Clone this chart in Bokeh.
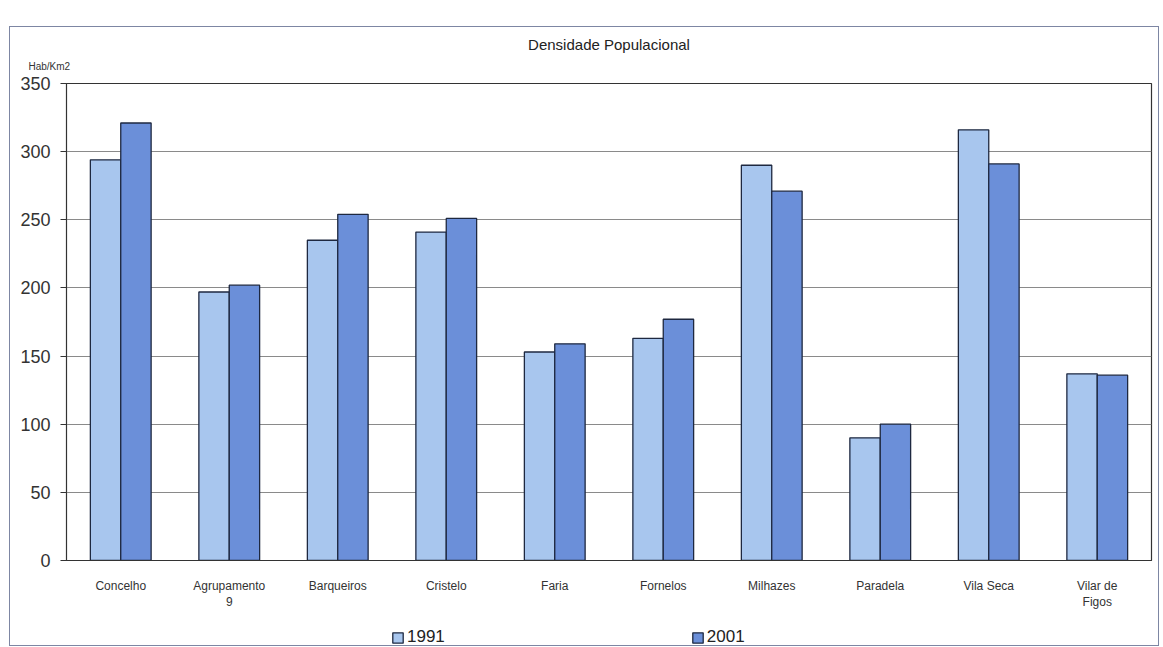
from bokeh.plotting import figure
from bokeh.layouts import column
from bokeh.models import ColumnDataSource, Legend, LegendItem, Title, FixedTicker
from bokeh.transform import dodge
from bokeh.embed import file_html
from bokeh.resources import INLINE

categories = ["Concelho", "Agrupamento\n9", "Barqueiros", "Cristelo", "Faria",
              "Fornelos", "Milhazes", "Paradela", "Vila Seca", "Vilar de\nFigos"]
values_1991 = [294, 197, 235, 241, 153, 163, 290, 90, 316, 137]
values_2001 = [321, 202, 254, 251, 159, 177, 271, 100, 291, 136]
series_names = ["1991", "2001"]
y_ticks = [0, 50, 100, 150, 200, 250, 300, 350]

src = ColumnDataSource(dict(cat=categories, v1991=values_1991, v2001=values_2001))

FONT = "Liberation Sans"
C1991 = "#a8c6ee"
C2001 = "#6b8fd9"
EDGE = "#1e2840"

p = figure(x_range=categories, y_range=(0, 350), width=1148, height=585,
           output_backend="svg", toolbar_location=None, title=None,
           min_border_left=56, min_border_top=56, min_border_right=7,
           min_border_bottom=40)

p.vbar(x=dodge("cat", -0.14, range=p.x_range), top="v1991", width=0.28,
       source=src, fill_color=C1991, line_color=EDGE, line_width=1.3)
p.vbar(x=dodge("cat", 0.14, range=p.x_range), top="v2001", width=0.28,
       source=src, fill_color=C2001, line_color=EDGE, line_width=1.3)

p.background_fill_color = "white"
p.border_fill_color = "white"
p.outline_line_color = "#333333"
p.outline_line_width = 1.2

p.xgrid.grid_line_color = None
p.ygrid.grid_line_color = "#8a8a8a"
p.ygrid.grid_line_width = 1
p.yaxis.ticker = FixedTicker(ticks=y_ticks)
p.yaxis.minor_tick_line_color = None
p.yaxis.major_tick_out = 6
p.yaxis.major_tick_in = 0
p.yaxis.major_label_text_font = FONT
p.yaxis.major_label_text_font_size = "18px"
p.yaxis.major_label_text_color = "#333333"
p.yaxis.major_label_standoff = 10
p.yaxis.axis_line_color = "#333333"
p.yaxis.major_tick_line_color = "#333333"

p.xaxis.major_tick_line_color = None
p.xaxis.major_label_text_font = FONT
p.xaxis.major_label_text_font_size = "12px"
p.xaxis.major_label_text_color = "#333333"
p.xaxis.major_label_standoff = 12
p.xaxis.axis_line_color = "#333333"
p.xaxis.axis_line_width = 1.2

# titles in the top panel: first added sits nearest the frame
p.add_layout(Title(text="Hab/Km2", align="left", offset=-38, standoff=24,
                   text_font=FONT, text_font_size="10px",
                   text_font_style="normal", text_color="#333333"), "above")
p.add_layout(Title(text="Densidade Populacional", align="center", offset=-10,
                   standoff=-12, text_font=FONT, text_font_size="15px",
                   text_font_style="normal", text_color="#222222"), "above")

# legend strip under the chart (hidden proxy renderers carry the styles)
leg = figure(width=1148, height=33, output_backend="svg", toolbar_location=None,
             x_range=(0, 1), y_range=(0, 1), min_border=0)
leg.axis.visible = False
leg.grid.visible = False
leg.outline_line_color = None
leg.background_fill_color = "white"
leg.border_fill_color = "white"
proxy = ColumnDataSource(dict(x=[0.5], top=[1]))
g1 = leg.vbar(x="x", top="top", width=0.1, source=proxy,
              fill_color=C1991, line_color=EDGE, line_width=1.3, visible=False)
g2 = leg.vbar(x="x", top="top", width=0.1, source=proxy,
              fill_color=C2001, line_color=EDGE, line_width=1.3, visible=False)
legend = Legend(items=[LegendItem(label=series_names[0], renderers=[g1]),
                       LegendItem(label=series_names[1], renderers=[g2])],
                orientation="horizontal", location=(325, -2),
                spacing=246, glyph_width=13, glyph_height=13,
                label_text_font=FONT, label_text_font_size="17px",
                label_text_color="#222222", label_standoff=3,
                border_line_color=None, background_fill_alpha=0,
                inactive_fill_alpha=0, padding=0, margin=0)
leg.add_layout(legend, "center")

layout = column(p, leg, spacing=0)
layout.styles = {"border": "1px solid #7d86a3", "margin-left": "9px",
                 "margin-top": "26px"}

open("out.html", "w").write(file_html(layout, INLINE))
